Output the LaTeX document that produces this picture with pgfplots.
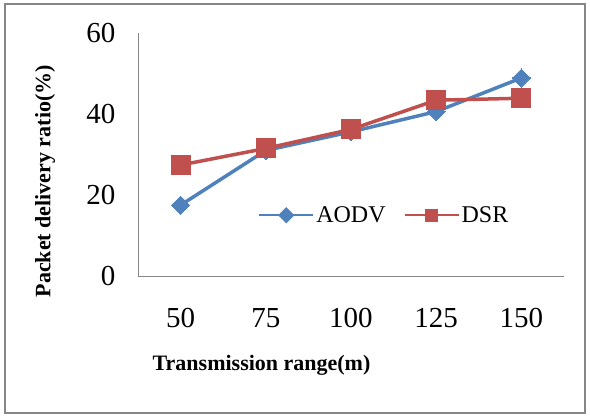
\documentclass[border=0pt]{standalone}
\usepackage{pgfplots}
\pgfplotsset{compat=1.18}
\usepackage{fontspec}
\setmainfont{Liberation Serif}
\definecolor{aodv}{RGB}{79,129,189}
\definecolor{dsr}{RGB}{192,80,77}
\definecolor{axisgray}{RGB}{134,134,134}
\begin{document}
\begin{tikzpicture}
% outer chart frame and page extent
\useasboundingbox (-138pt,-140pt) rectangle (452pt,276pt);
\draw[axisgray,line width=1.6pt] (-133pt,-137pt) rectangle (447pt,272pt);
\begin{axis}[
  at={(0,0)}, anchor=south west,
  scale only axis,
  width=426pt, height=243pt,
  xmin=-0.5, xmax=4.5,
  ymin=0, ymax=60,
  xtick={0,1,2,3,4},
  xticklabels={50,75,100,125,150},
  ytick={0,20,40,60},
  axis x line*=bottom, axis y line*=left,
  axis line style={axisgray, line width=0.8pt, -},
  major tick length=0pt,
  tick label style={font=\fontsize{29}{29}\selectfont, black},
  /pgf/number format/assume math mode=true,
  yticklabel style={xshift=-19pt},
  xticklabel style={yshift=-29pt},
  xlabel={Transmission range(m)},
  ylabel={Packet delivery ratio(\%)},
  xlabel style={font=\bfseries\fontsize{22}{22}\selectfont, at={(axis description cs:0.29,-0.366)}, anchor=center},
  ylabel style={font=\bfseries\fontsize{22}{22}\selectfont, at={(axis description cs:-0.218,0.39)}, anchor=center, rotate=0},
  legend columns=2,
  legend style={draw=none, fill=none, at={(axis description cs:0.275,0.25)}, anchor=west,
    font=\fontsize{24}{24}\selectfont, column sep=0pt,
    /tikz/every even column/.append style={column sep=16pt}},
  clip=false,
]
\addplot[aodv, line width=3.5pt, mark=square*, mark size=6.4pt,
  mark options={rotate=45, solid, line width=0pt},
  legend image code/.code={
    \draw[aodv, line width=2pt] (0pt,0pt) -- (54pt,0pt);
    \fill[aodv, rotate around={45:(27pt,0pt)}] (23pt,-4pt) rectangle (31pt,4pt);
  }]
  coordinates {(0,17.5) (1,31.0) (2,35.6) (3,40.6) (4,48.9)};
\addlegendentry{AODV}
\addplot[dsr, line width=3.5pt, mark=square*, mark size=9.5pt,
  mark options={solid, line width=0pt},
  legend image code/.code={
    \draw[dsr, line width=2pt] (0pt,0pt) -- (54pt,0pt);
    \fill[dsr] (22pt,-5pt) rectangle (32pt,5pt);
  }]
  coordinates {(0,27.4) (1,31.5) (2,36.2) (3,43.4) (4,43.9)};
\addlegendentry{DSR}
\end{axis}
\end{tikzpicture}
\end{document}
